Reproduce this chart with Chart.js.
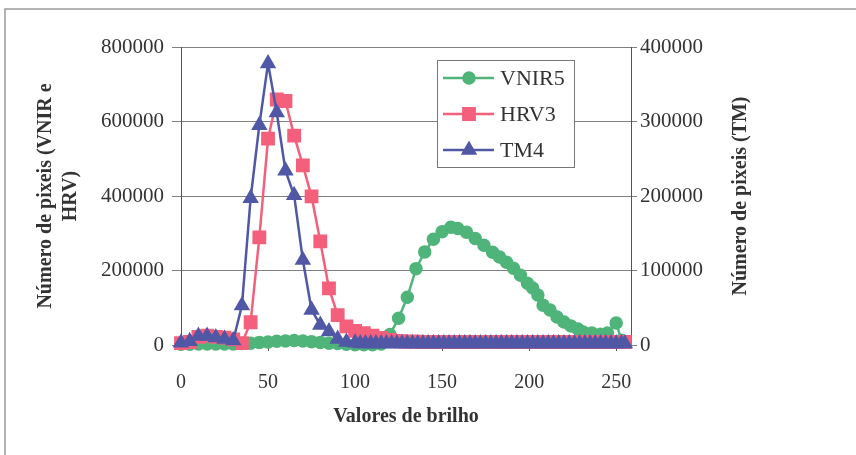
<!DOCTYPE html>
<html>
<head>
<meta charset="utf-8">
<script src="https://cdn.jsdelivr.net/npm/chart.js@4.4.1/dist/chart.umd.min.js"></script>
<style>
  html, body { margin: 0; padding: 0; background: #fff; }
  #wrap { width: 856px; height: 455px; }
</style>
</head>
<body>
<div id="wrap"><canvas id="histChart" width="856" height="455"></canvas></div>
<script>
// brightness values (x) and pixel counts per series
const vnirX = [0, 5, 10, 15, 20, 25, 30, 35, 40, 45, 50, 55, 60, 65, 70, 75, 80, 85, 90, 95, 100, 105, 110, 115,
  120, 125, 130, 135, 140, 145, 150, 155, 159, 164, 169, 174, 179, 183, 187, 191, 195, 199, 202, 205, 208,
  212, 216, 220, 224, 228, 231, 236, 241, 245, 250, 253];
const vnirY = [2000, 2000, 3000, 3000, 3000, 3000, 3000, 4000, 5000, 7000, 8000, 10000, 11000, 12000, 11000, 9000,
  7000, 5000, 4000, 2000, 1000, 1000, 1000, 3000,
  28000, 72000, 128000, 205000, 250000, 284000, 304000, 316000, 313000, 303000, 286000, 268000, 249000, 236000,
  222000, 206000, 187000, 166000, 153000, 134000, 107000, 94000, 75000, 62000, 51000, 43000, 35000, 32000,
  29000, 32000, 59000, 13000];

const hrvX = [0, 5, 10, 15, 20, 25, 30, 35, 40, 45, 50, 55, 60, 65, 70, 75, 80, 85, 90, 95, 100, 105, 110, 115, 120,
  123, 126, 129, 132, 135, 138, 141, 144, 147, 150, 153, 156, 159, 162, 165, 168, 171, 174, 177, 180, 183, 186,
  189, 192, 195, 198, 201, 204, 207, 210, 213, 216, 219, 222, 225, 228, 231, 234, 237, 240, 243, 246, 249, 252, 255];
const hrvY = [5000, 8000, 22000, 25000, 22000, 20000, 15000, 5000, 61000, 289000, 554000, 659000, 655000, 562000,
  482000, 399000, 278000, 152000, 80000, 50000, 38000, 32000, 25000, 19000, 14000,
  11000, 10000, 9000, 9000, 9000, 8000, 8000, 8000, 8000, 8000, 8000, 8000, 8000, 8000, 8000, 8000, 8000, 8000,
  8000, 8000, 8000, 8000, 8000, 8000, 8000, 8000, 8000, 8000, 8000, 8000, 8000, 8000, 8000, 8000, 8000, 8000,
  8000, 8000, 8000, 8000, 8000, 8000, 8000, 8000, 8000];

const tmX = [0, 5, 10, 15, 20, 25, 30, 35, 40, 45, 50, 55, 60, 65, 70, 75, 80, 85, 90, 95,
  100, 103, 106, 109, 112, 115, 118, 121, 124, 127, 130, 133, 136, 139, 142, 145, 148, 151, 154, 157, 160, 163,
  166, 169, 172, 175, 178, 181, 184, 187, 190, 193, 196, 199, 202, 205, 208, 211, 214, 217, 220, 223, 226, 229,
  232, 235, 238, 241, 244, 247, 250, 253, 255];
const tmY = [3000, 5000, 12000, 12000, 10000, 8000, 6000, 53000, 197000, 295000, 378000, 312000, 234000, 201000,
  114000, 47000, 27000, 18000, 8000, 4000,
  3000, 2000, 2000, 2000, 2000, 2000, 2000, 2000, 2000, 2000, 2000, 2000, 2000, 2000, 2000, 2000, 2000, 2000,
  2000, 2000, 2000, 2000, 2000, 2000, 2000, 2000, 2000, 2000, 2000, 2000, 2000, 2000, 2000, 2000, 2000, 2000,
  2000, 2000, 2000, 2000, 2000, 2000, 2000, 2000, 2000, 2000, 2000, 2000, 2000, 2000, 2000, 2000, 2000];

const xTicks = [0, 50, 100, 150, 200, 250];
const seriesNames = ['VNIR5', 'HRV3', 'TM4'];
const leftTitle = ['Número de pixeis (VNIR e', 'HRV)'];
const rightTitle = 'Número de pixeis (TM)';
const xTitle = 'Valores de brilho';

const GREEN = '#4fb479';
const PINK = '#f4607c';
const BLUE = '#5058a6';
const TXT = '#333333';
const SERIF = "'Liberation Serif', 'Times New Roman', serif";

const toPoints = (xs, ys) => xs.map((x, i) => ({ x: x, y: ys[i] }));

// frame, legend and axis titles
const decorPlugin = {
    id: 'decor',
    beforeDraw(chart) {
        const ctx = chart.ctx;
        ctx.save();
        ctx.strokeStyle = '#9a9a9a';
        ctx.lineWidth = 1.5;
        ctx.beginPath();
        ctx.moveTo(5, 455);
        ctx.lineTo(5, 9);
        ctx.lineTo(856, 9);
        ctx.stroke();
        ctx.restore();
    },
    afterDraw(chart) {
        const ctx = chart.ctx;
        const area = chart.chartArea;
        const midY = (area.top + area.bottom) / 2;
        ctx.save();
        ctx.fillStyle = TXT;
        ctx.font = 'bold 20px ' + SERIF;
        ctx.textAlign = 'center';
        ctx.textBaseline = 'middle';

        ctx.save();
        ctx.translate(46, midY);
        ctx.rotate(-Math.PI / 2);
        ctx.fillText(leftTitle[0], 0, 0);
        ctx.fillText(leftTitle[1], 0, 25);
        ctx.restore();

        ctx.save();
        ctx.translate(741, midY);
        ctx.rotate(-Math.PI / 2);
        ctx.fillText(rightTitle, 0, 0);
        ctx.restore();

        ctx.fillText(xTitle, (area.left + area.right) / 2, 417);

        // legend box inside the plot
        const bx = 437, by = 60, bw = 137, bh = 107;
        ctx.fillStyle = '#fff';
        ctx.fillRect(bx, by, bw, bh);
        ctx.strokeStyle = '#777';
        ctx.lineWidth = 1;
        ctx.strokeRect(bx + 0.5, by + 0.5, bw, bh);
        ctx.font = '22px ' + SERIF;
        ctx.textAlign = 'left';
        chart.data.datasets.forEach((ds, i) => {
            const y = by + 18 + i * 36;
            ctx.strokeStyle = ds.borderColor;
            ctx.lineWidth = 2.5;
            ctx.beginPath();
            ctx.moveTo(443, y);
            ctx.lineTo(494, y);
            ctx.stroke();
            Chart.helpers.drawPoint(ctx, {
                pointStyle: ds.pointStyle,
                radius: ds.pointRadius,
                borderWidth: 1
            }, 469, y);
            ctx.fillStyle = ds.pointBackgroundColor;
            ctx.fill();
            ctx.fillStyle = TXT;
            ctx.fillText(ds.label, 500, y + 1);
        });
        ctx.restore();
    }
};

const plainNumber = v => String(v);

const ctx = document.getElementById('histChart').getContext('2d');
new Chart(ctx, {
    type: 'line',
    data: {
        datasets: [
            {
                label: seriesNames[0],
                data: toPoints(vnirX, vnirY),
                yAxisID: 'y',
                borderColor: GREEN,
                backgroundColor: GREEN,
                pointBackgroundColor: GREEN,
                pointBorderColor: GREEN,
                pointStyle: 'circle',
                pointRadius: 5.5,
                borderWidth: 2.5,
                clip: false,
                order: 3
            },
            {
                label: seriesNames[1],
                data: toPoints(hrvX, hrvY),
                yAxisID: 'y',
                borderColor: PINK,
                backgroundColor: PINK,
                pointBackgroundColor: PINK,
                pointBorderColor: PINK,
                pointStyle: 'rect',
                pointRadius: 8,
                borderWidth: 2.5,
                clip: false,
                order: 2
            },
            {
                label: seriesNames[2],
                data: toPoints(tmX, tmY),
                yAxisID: 'y1',
                borderColor: BLUE,
                backgroundColor: BLUE,
                pointBackgroundColor: BLUE,
                pointBorderColor: BLUE,
                pointStyle: 'triangle',
                pointRadius: 7,
                borderWidth: 2.5,
                clip: false,
                order: 1
            }
        ]
    },
    options: {
        responsive: false,
        animation: false,
        layout: { padding: { top: 47, left: 0, right: 0, bottom: 0 } },
        plugins: {
            legend: { display: false },
            tooltip: { enabled: false }
        },
        scales: {
            x: {
                type: 'linear',
                min: 0,
                max: 258.5,
                afterBuildTicks: scale => {
                    scale.ticks = xTicks.map(v => ({ value: v }));
                },
                afterFit: scale => { scale.height = 110; },
                grid: { drawOnChartArea: false, tickLength: 6, color: '#555' },
                border: { color: '#555', width: 1 },
                ticks: { color: TXT, padding: 20, maxRotation: 0, callback: plainNumber,
                    font: { family: SERIF, size: 20 } }
            },
            y: {
                position: 'left',
                min: 0,
                max: 800000,
                afterFit: scale => { scale.width = 181; },
                grid: { color: '#808080', tickLength: 9, lineWidth: 1 },
                border: { color: '#555', width: 1 },
                ticks: { stepSize: 200000, color: TXT, padding: 8, callback: plainNumber,
                    font: { family: SERIF, size: 21 } }
            },
            y1: {
                position: 'right',
                min: 0,
                max: 400000,
                afterFit: scale => { scale.width = 225; },
                grid: { drawOnChartArea: false, tickLength: 6, color: '#808080' },
                border: { color: '#555', width: 1 },
                ticks: { stepSize: 100000, color: TXT, padding: 3, callback: plainNumber,
                    font: { family: SERIF, size: 21 } }
            }
        }
    },
    plugins: [decorPlugin]
});
</script>
</body>
</html>
